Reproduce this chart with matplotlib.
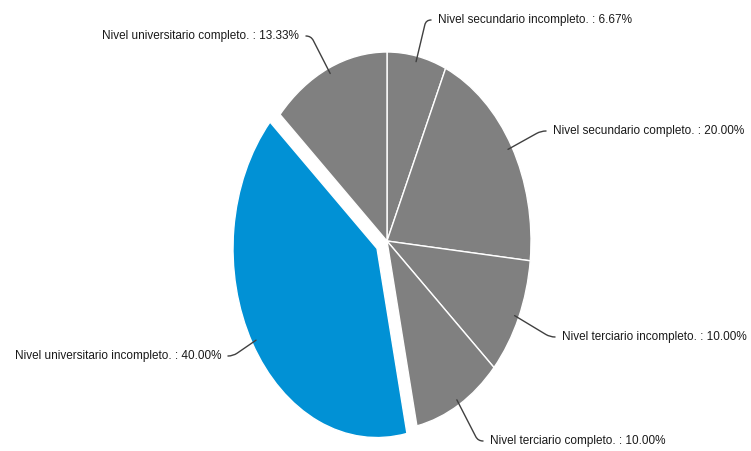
import matplotlib.pyplot as plt
import numpy as np

categories = [
    'Nivel secundario incompleto.',
    'Nivel secundario completo.',
    'Nivel terciario incompleto.',
    'Nivel terciario completo.',
    'Nivel universitario incompleto.',
    'Nivel universitario completo.',
]
values = [6.67, 20.00, 10.00, 10.00, 40.00, 13.33]
colors = ['#808080', '#808080', '#808080', '#808080', '#0191d5', '#808080']
explode = [0, 0, 0, 0, 0.08, 0]

# label anchor in pixels (x, y from top) and alignment
label_px = [(438, 20, 'left'), (553, 131, 'left'), (562, 337, 'left'),
            (490, 441, 'left'), (221, 356, 'right'), (299, 36, 'right')]

W, H = 751, 451
cx, cy = 387, 241      # pie centre in px
rx, ry = 144, 189      # pie radii in px (pie is drawn stretched)

fig = plt.figure(figsize=(W / 100, H / 100), dpi=100)
ax = fig.add_axes([0, 0, 1, 1])
wedges, _ = ax.pie(values, colors=colors, explode=explode, startangle=90, counterclock=False,
                   radius=1, wedgeprops=dict(edgecolor='white', linewidth=1))
ax.set_aspect('auto')
ax.set_xlim(-cx / rx, (W - cx) / rx)
ax.set_ylim(-(H - cy) / ry, cy / ry)
ax.axis('off')

def px2data(px, py):
    return (px - cx) / rx, (cy - py) / ry

for w, cat, val, ex, (tx, ty, ha) in zip(wedges, categories, values, explode, label_px):
    ang = np.deg2rad((w.theta1 + w.theta2) / 2)
    r = 0.97 + ex
    xy = (r * np.cos(ang), r * np.sin(ang))
    # start point and corner in pixels (y up) to get the leader direction
    sx, sy = cx + rx * xy[0], ry * xy[1]
    side = -1 if ha == 'left' else 1
    kx, ky = tx + side * 12, cy - ty
    angB = np.degrees(np.arctan2(sy - ky, sx - kx))
    ax.annotate(f'{cat} : {val:.2f}%', xy=xy, xytext=px2data(tx, ty),
                ha=ha, va='center', fontsize=8.5, color='#1a1a1a',
                family=['Liberation Sans', 'DejaVu Sans'],
                arrowprops=dict(arrowstyle='-', color='#404040', lw=1,
                                shrinkA=3, shrinkB=0,
                                relpos=(0, 0.5) if ha == 'left' else (1, 0.5),
                                connectionstyle=f'angle,angleA={0 if ha == "right" else 180},angleB={angB:.1f},rad=5'))

fig.savefig('out.png', dpi=100, facecolor='white')
